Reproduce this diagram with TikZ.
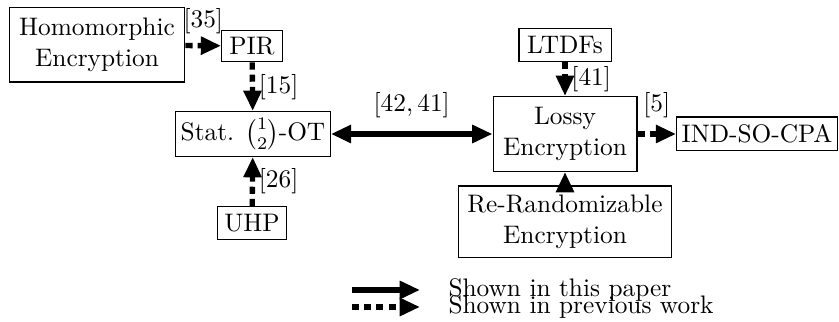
\documentclass[tikz,border=0pt]{standalone}
\usepackage{amsmath}
\usetikzlibrary{arrows.meta,positioning}

\tikzset{
  tip/.tip={Triangle[length=8pt,width=6.8pt]},
  box/.style={draw, rectangle, inner sep=2pt, align=center},
  shown/.style={-tip, line width=2.1pt},
  prev/.style={shown, dash pattern=on 2.8pt off 2pt},
  cite/.style={inner sep=1.5pt},
}

\begin{document}
\begin{tikzpicture}[x=0.3945pt, y=-0.3945pt]
        \useasboundingbox (0,0) rectangle (839,322);

        \node[box, minimum width=69.4pt, minimum height=29.2pt] (he) at (97,45) {Homomorphic\\Encryption};
        \node[box, minimum width=24pt, minimum height=12.6pt] (pir) at (252,46) {PIR};
        \node[box, minimum width=60.8pt, minimum height=17.8pt] (ot) at (253,134) {Stat. $\binom{1}{2}$-OT};
        \node[box, minimum width=27.2pt, minimum height=13pt] (uhp) at (252,223) {UHP};
        \node[box, minimum width=36.3pt, minimum height=13pt] (ltdf) at (565,45) {LTDFs};
        \node[box, minimum width=56.8pt, minimum height=29.6pt] (lossy) at (565,134) {Lossy\\Encryption};
        \node[box, minimum width=60.8pt, minimum height=13.4pt] (ind) at (757,134) {IND-SO-CPA};
        \node[box, minimum width=84.4pt, minimum height=28.4pt] (rr) at (565,222) {Re-Randomizable\\Encryption};

        \draw[prev] (he) -- (pir) node[midway, above, cite, yshift=2pt] {[35]};
        \draw[prev] (pir) -- (ot) node[midway, right, cite] {[15]};
        \draw[prev] (uhp) -- (ot) node[midway, right, cite] {[26]};
        \draw[shown, tip-tip] (ot) -- (lossy) node[midway, above, cite, yshift=4pt] {$[42, 41]$};
        \draw[prev] (ltdf) -- (lossy) node[midway, right, cite] {[41]};
        \draw[prev] (lossy) -- (ind) node[midway, above, cite, yshift=4pt] {[5]};
        \draw[shown] (rr) -- (lossy);

        % legend
        \coordinate (s1) at (352,290);
        \coordinate (e1) at (420,290);
        \coordinate (s2) at (352,307);
        \coordinate (e2) at (420,307);
        \node[anchor=base west, inner sep=0pt] (t1) at (448,297) {Shown in this paper};
        \node[anchor=base west, inner sep=0pt] (t2) at (448,314) {Shown in previous work};
        \draw[shown] (s1) -- (e1);
        \draw[prev] (s2) -- (e2);
    \end{tikzpicture}
\end{document}
